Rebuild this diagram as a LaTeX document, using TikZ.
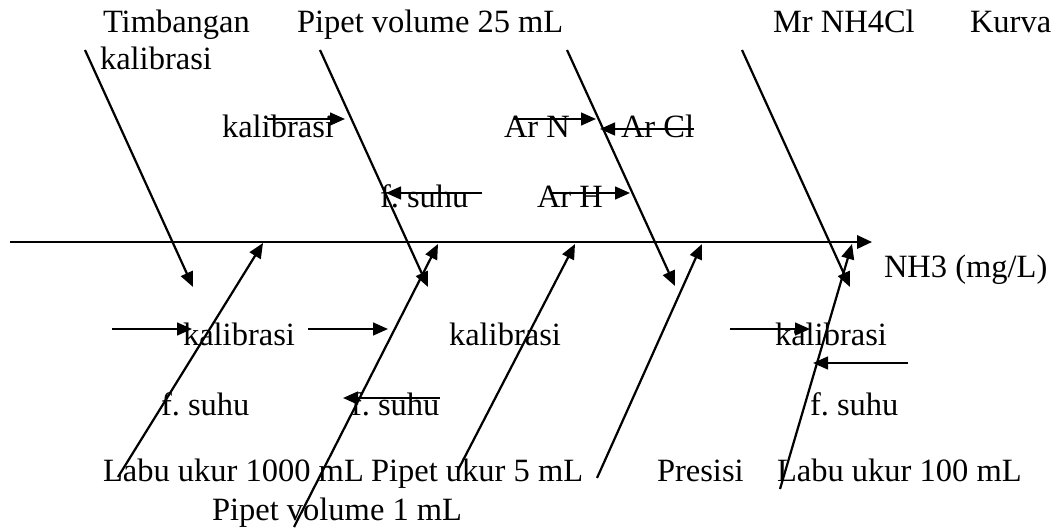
\documentclass[tikz,border=0pt]{standalone}
\usepackage{fontspec}
\setmainfont{Liberation Serif}
\usetikzlibrary{arrows.meta}
\frenchspacing

\tikzset{
  spine/.style={line width=0.9pt, -{Triangle[length=5.4pt,width=4.8pt]}},
  bone/.style={line width=0.8pt, -{Triangle[length=5.4pt,width=4.6pt]}},
  cause/.style={line width=0.8pt, -{Triangle[length=5.4pt,width=4.6pt]}},
  lbl/.style={anchor=base west, inner sep=0pt, outer sep=0pt, font=\fontsize{11.7}{14}\selectfont},
}

\begin{document}
\begin{tikzpicture}[x=0.36pt, y=-0.36pt]
\useasboundingbox (0,0) rectangle (1053,527);

% ---- main spine and effect ----
\coordinate (sp0) at (10,242);
\coordinate (sp1) at (872,242);
\draw[spine] (sp0) -- (sp1);
\node[lbl] (effect) at (884,277) {NH3 (mg/L)};

% ---- top labels ----
\node[lbl] (timb) at (103,33) {Timbangan};
\node[lbl] (timbk) at (100,70) {kalibrasi};
\node[lbl] (pv25) at (297,33) {Pipet volume 25 mL};
\node[lbl] (mr) at (773,33) {Mr NH4Cl};
\node[lbl] (kurva) at (970,33) {Kurva};

% ---- top bones ----
\coordinate (t1a) at (85,50);   \coordinate (t1b) at (193,287);
\coordinate (t2a) at (320,50);  \coordinate (t2b) at (428,287);
\coordinate (t3a) at (567,50);  \coordinate (t3b) at (675,286);
\coordinate (t4a) at (742,50);  \coordinate (t4b) at (850,287);
\draw[bone] (t1a) -- (t1b);
\draw[bone] (t2a) -- (t2b);
\draw[bone] (t3a) -- (t3b);
\draw[bone] (t4a) -- (t4b);

% ---- top sub-causes ----
\node[lbl] (k1) at (222,138) {kalibrasi};
\coordinate (k1a) at (267,119); \coordinate (k1b) at (345,119);
\draw[cause] (k1a) -- (k1b);

\node[lbl] (s1) at (380,207) {f. suhu};
\coordinate (s1a) at (482,193); \coordinate (s1b) at (386,193);
\draw[cause] (s1a) -- (s1b);

\node[lbl] (arn) at (504,138) {Ar N};
\coordinate (arna) at (513,119); \coordinate (arnb) at (596,119);
\draw[cause] (arna) -- (arnb);

\node[lbl] (arcl) at (621,138) {Ar Cl};
\coordinate (arcla) at (694,129); \coordinate (arclb) at (600,129);
\draw[cause] (arcla) -- (arclb);

\node[lbl] (arh) at (537,207) {Ar H};
\coordinate (arha) at (550,193); \coordinate (arhb) at (630,193);
\draw[cause] (arha) -- (arhb);

% ---- bottom labels ----
\node[lbl] (lu1000) at (103,481) {Labu ukur 1000 mL};
\node[lbl] (pu5) at (371,481) {Pipet ukur 5 mL};
\node[lbl] (pres) at (657,481) {Presisi};
\node[lbl] (lu100) at (777,481) {Labu ukur 100 mL};
\node[lbl] (pv1) at (212,520) {Pipet volume 1 mL};

% ---- bottom bones ----
\coordinate (b1a) at (118,477); \coordinate (b1b) at (263,243);
\coordinate (b2a) at (294,527); \coordinate (b2b) at (438,244);
\coordinate (b3a) at (458,470); \coordinate (b3b) at (575,244);
\coordinate (b4a) at (597,478); \coordinate (b4b) at (702,244);
\coordinate (b5a) at (780,489); \coordinate (b5b) at (852,244);
\draw[bone] (b1a) -- (b1b);
\draw[bone] (b2a) -- (b2b);
\draw[bone] (b3a) -- (b3b);
\draw[bone] (b4a) -- (b4b);
\draw[bone] (b5a) -- (b5b);

% ---- bottom sub-causes ----
\node[lbl] (k2) at (183,345) {kalibrasi};
\coordinate (k2a) at (112,329); \coordinate (k2b) at (192,329);
\draw[cause] (k2a) -- (k2b);

\coordinate (k3a) at (308,329); \coordinate (k3b) at (388,329);
\draw[cause] (k3a) -- (k3b);

\node[lbl] (k4) at (449,345) {kalibrasi};

\node[lbl] (k5) at (775,345) {kalibrasi};
\coordinate (k5a) at (730,329); \coordinate (k5b) at (810,329);
\draw[cause] (k5a) -- (k5b);

\coordinate (s5a) at (908,363); \coordinate (s5b) at (813,363);
\draw[cause] (s5a) -- (s5b);

\node[lbl] (s2) at (161,415) {f. suhu};
\node[lbl] (s3) at (351,415) {f. suhu};
\coordinate (s3a) at (440,398); \coordinate (s3b) at (343,398);
\draw[cause] (s3a) -- (s3b);

\node[lbl] (s4) at (810,415) {f. suhu};
\end{tikzpicture}
\end{document}
